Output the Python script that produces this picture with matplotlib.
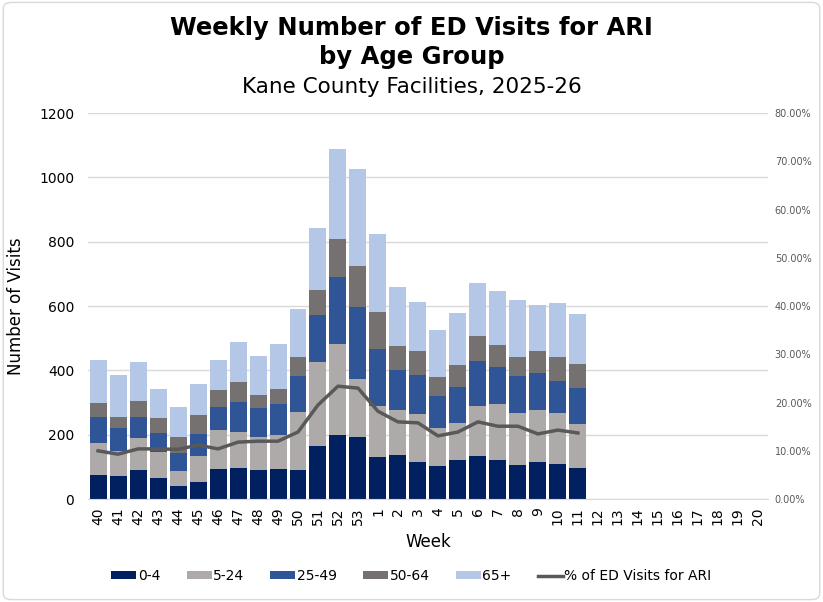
import matplotlib.pyplot as plt
import matplotlib.patches as mpatches
from matplotlib.ticker import FuncFormatter, MultipleLocator
import numpy as np

# weeks of the 2025-26 season
weeks = [str(w) for w in range(40, 54)] + [str(w) for w in range(1, 21)]

# visits per age group (weeks 40..11, later weeks have no data yet)
age_0_4 = [75, 72, 90, 65, 40, 53, 93, 96, 90, 93, 90, 165, 199, 193,
           131, 137, 115, 103, 121, 134, 121, 106, 115, 109, 96]
age_5_24 = [99, 78, 100, 81, 47, 81, 121, 112, 103, 106, 180, 261, 283, 180,
            158, 140, 149, 118, 115, 155, 174, 161, 162, 158, 137]
age_25_49 = [81, 71, 65, 59, 56, 68, 72, 94, 90, 96, 112, 146, 208, 224,
             177, 124, 121, 99, 112, 140, 115, 115, 115, 100, 112]
age_50_64 = [43, 34, 50, 47, 50, 59, 53, 62, 40, 47, 59, 78, 118, 127,
             115, 75, 75, 59, 69, 78, 69, 59, 68, 74, 75]
age_65p = [134, 131, 121, 90, 93, 97, 93, 124, 122, 140, 150, 193, 280, 302,
           243, 183, 152, 146, 161, 165, 168, 178, 143, 168, 155]
pct_ari = [0.100, 0.093, 0.104, 0.104, 0.103, 0.112, 0.104, 0.118, 0.120,
           0.120, 0.139, 0.195, 0.234, 0.230, 0.182, 0.160, 0.158, 0.131,
           0.139, 0.160, 0.151, 0.151, 0.135, 0.143, 0.137]

series = [("0-4", age_0_4, "#002060"),
          ("5-24", age_5_24, "#AEAAAA"),
          ("25-49", age_25_49, "#2F5597"),
          ("50-64", age_50_64, "#767171"),
          ("65+", age_65p, "#B4C7E7")]

plt.rcParams['font.family'] = ['DejaVu Sans']

fig = plt.figure(figsize=(8.23, 6.02), dpi=100)
ax = fig.add_axes([0.107, 0.171, 0.826, 0.641])

n = len(age_0_4)
x = np.arange(n)
bottom = np.zeros(n)
handles = []
for label, vals, color in series:
    b = ax.bar(x, vals, width=0.85, bottom=bottom, color=color, label=label, zorder=2)
    bottom += np.array(vals)
    handles.append(b)

ax.set_xlim(-0.5, len(weeks) - 0.5)
ax.set_ylim(0, 1200)
ax.yaxis.set_major_locator(MultipleLocator(200))
ax.set_xticks(np.arange(len(weeks)))
ax.set_xticklabels(weeks, rotation=90, fontsize=10)
ax.tick_params(axis='x', length=0, pad=6)
ax.tick_params(axis='y', length=0, labelsize=10, pad=10)
ax.grid(axis='y', color="#D9D9D9", linewidth=1, zorder=0)
for s in ['top', 'right', 'left']:
    ax.spines[s].set_visible(False)
ax.spines['bottom'].set_color("#D9D9D9")
ax.set_xlabel("Week", fontsize=12, labelpad=6)
ax.set_ylabel("Number of Visits", fontsize=12, labelpad=10)

ax2 = ax.twinx()
line, = ax2.plot(x, pct_ari, color="#595959", linewidth=2.5,
                 label="% of ED Visits for ARI", zorder=3)
ax2.set_ylim(0, 0.8)
ax2.yaxis.set_major_locator(MultipleLocator(0.1))
ax2.yaxis.set_major_formatter(FuncFormatter(lambda v, p: "{:.2f}%".format(v * 100)))
ax2.tick_params(axis='y', length=0, labelsize=7, labelcolor="#595959", pad=5)
for s in ax2.spines.values():
    s.set_visible(False)

fig.legend(handles + [line], [s[0] for s in series] + ["% of ED Visits for ARI"],
           loc='center', bbox_to_anchor=(0.5, 0.043), ncol=6, frameon=False,
           fontsize=10, handlelength=1.8, handleheight=0.5, handletextpad=0.1,
           columnspacing=1.9)

fig.text(0.5, 0.953, "Weekly Number of ED Visits for ARI", ha='center', va='center',
         fontsize=17.5, fontweight='bold')
fig.text(0.5, 0.905, "by Age Group", ha='center', va='center',
         fontsize=17.5, fontweight='bold')
fig.text(0.5, 0.855, "Kane County Facilities, 2025-26", ha='center', va='center',
         fontsize=15.5)

fig.patches.append(mpatches.FancyBboxPatch((0.004, 0.004), 0.992, 0.992,
                                           boxstyle="round,pad=0,rounding_size=0.01",
                                           transform=fig.transFigure, fill=False,
                                           edgecolor="#D9D9D9", linewidth=1))

plt.savefig("out.png", dpi=100)
